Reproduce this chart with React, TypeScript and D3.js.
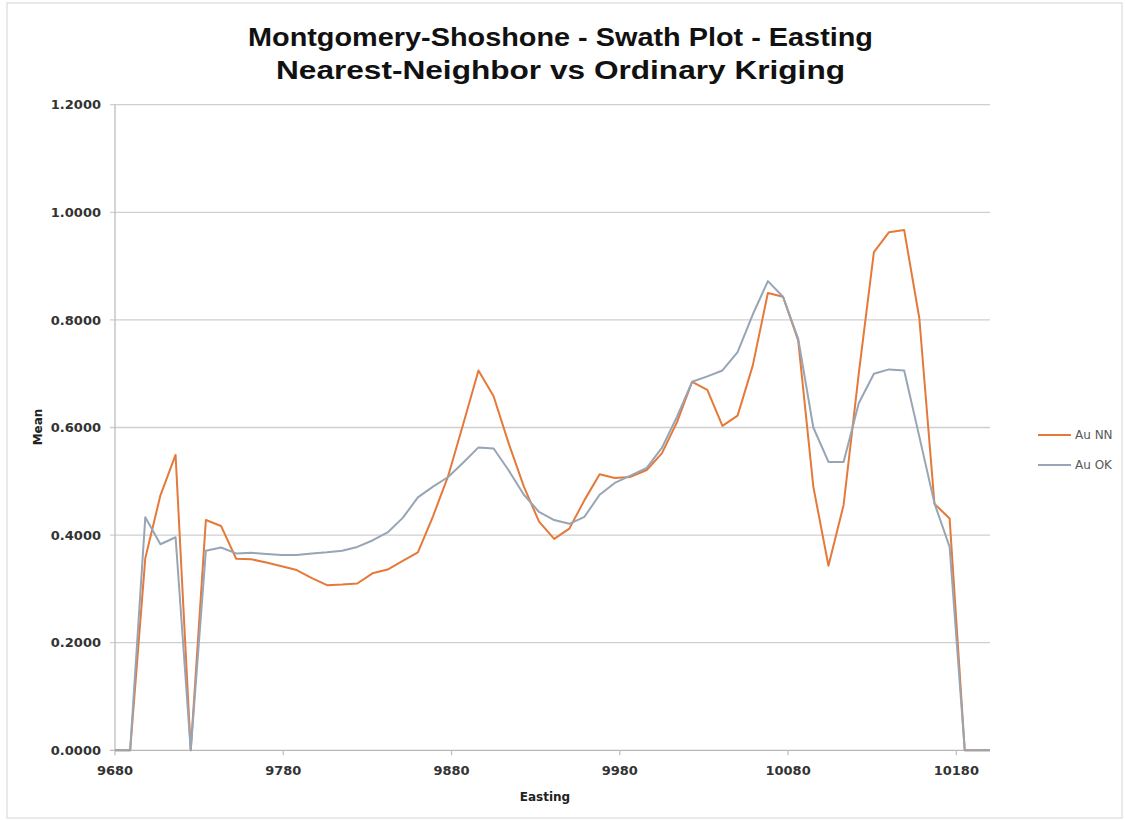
import React from "react";
import * as d3 from "d3";

const eastings = [
  9680, 9689, 9698, 9707, 9716, 9725, 9734, 9743, 9752, 9761, 9770, 9779, 9788, 9797, 9806,
  9815, 9824, 9833, 9842, 9851, 9860, 9869, 9878, 9887, 9896, 9905, 9914, 9923, 9932, 9941,
  9950, 9959, 9968, 9977, 9986, 9996, 10005, 10014, 10023, 10032, 10041, 10050, 10059, 10068,
  10077, 10086, 10095, 10104, 10113, 10122, 10131, 10140, 10149, 10158, 10167, 10176, 10185,
  10194, 10200,
];

const auNN = [
  0, 0, 0.357, 0.474, 0.549, 0, 0.428, 0.417, 0.356, 0.355, 0.349, 0.342, 0.335, 0.32, 0.307,
  0.308, 0.31, 0.329, 0.336, 0.352, 0.368, 0.435, 0.51, 0.607, 0.706, 0.658, 0.57, 0.49, 0.425,
  0.393, 0.412, 0.465, 0.513, 0.506, 0.508, 0.521, 0.552, 0.61, 0.685, 0.67, 0.603, 0.622, 0.715,
  0.85, 0.843, 0.762, 0.49, 0.343, 0.456, 0.7, 0.926, 0.963, 0.967, 0.803, 0.458, 0.431, 0, 0, 0,
];

const auOK = [
  0, 0, 0.433, 0.383, 0.396, 0, 0.371, 0.377, 0.366, 0.367, 0.365, 0.363, 0.363, 0.366, 0.368,
  0.371, 0.378, 0.39, 0.405, 0.432, 0.47, 0.49, 0.508, 0.535, 0.563, 0.561, 0.52, 0.475, 0.443,
  0.428, 0.421, 0.434, 0.475, 0.497, 0.51, 0.525, 0.562, 0.62, 0.685, 0.695, 0.706, 0.74, 0.81,
  0.872, 0.843, 0.765, 0.6, 0.536, 0.536, 0.645, 0.7, 0.708, 0.706, 0.583, 0.459, 0.378, 0, 0, 0,
];

const xTicks = [9680, 9780, 9880, 9980, 10080, 10180];
const yTicks = [0, 0.2, 0.4, 0.6, 0.8, 1.0, 1.2];

const seriesNames = ["Au NN", "Au OK"];
const seriesColors = ["#E4793A", "#97A5B5"];

const titleLines = ["Montgomery-Shoshone - Swath Plot - Easting", "Nearest-Neighbor vs Ordinary Kriging"];

export default function App() {
  const W = 1125;
  const H = 820;
  const left = 115;
  const right = 990;
  const top = 104.7;
  const bottom = 750.3;

  const x = d3.scaleLinear().domain([9680, 10200]).range([left, right]);
  const y = d3.scaleLinear().domain([0, 1.2]).range([bottom, top]);
  const fmt = d3.format(".4f");

  const line = d3
    .line<number>()
    .x((_, i) => x(eastings[i]))
    .y((d) => y(d));

  const series = [auNN, auOK];
  const tickFont = "'DejaVu Sans', sans-serif";

  return (
    <svg
      width={W}
      height={H}
      style={{ position: "absolute", left: 0, top: 0, background: "#fff" }}
    >
      <rect x={7} y={3} width={1115} height={815} fill="#fff" stroke="#d4d4d4" strokeWidth={1} />

      {/* title */}
      <g fontFamily="'Liberation Sans', Arial, sans-serif" fontWeight="bold" fontSize={25} fill="#111">
        <text x={560.5} y={46} textAnchor="middle" textLength={625} lengthAdjust="spacingAndGlyphs">
          {titleLines[0]}
        </text>
        <text x={560.5} y={79} textAnchor="middle" textLength={569} lengthAdjust="spacingAndGlyphs">
          {titleLines[1]}
        </text>
      </g>

      {/* gridlines */}
      {yTicks.map((t) => (
        <g key={"g" + t}>
          <line x1={left - 5} x2={right} y1={y(t)} y2={y(t)} stroke={t === 0 ? "#b8b8b8" : "#cfcfcf"} strokeWidth={1.3} />
          <text
            x={101}
            y={y(t)}
            dy="0.36em"
            textAnchor="end"
            fontFamily={tickFont}
            fontWeight="bold"
            fontSize={13}
            fill="#333"
          >
            {fmt(t)}
          </text>
        </g>
      ))}

      {/* y axis line */}
      <line x1={left} x2={left} y1={top} y2={bottom} stroke="#bdbdbd" strokeWidth={1.3} />

      {/* x ticks */}
      {xTicks.map((t) => (
        <g key={"x" + t}>
          <line x1={x(t)} x2={x(t)} y1={bottom} y2={bottom + 5} stroke="#bdbdbd" strokeWidth={1.2} />
          <text
            x={x(t)}
            y={775}
            textAnchor="middle"
            fontFamily={tickFont}
            fontWeight="bold"
            fontSize={13}
            fill="#333"
          >
            {t}
          </text>
        </g>
      ))}

      {/* axis titles */}
      <text
        x={545}
        y={801}
        textAnchor="middle"
        fontFamily={tickFont}
        fontWeight="bold"
        fontSize={12}
        fill="#222"
      >
        Easting
      </text>
      <text
        transform={`translate(42, 427) rotate(-90)`}
        textAnchor="middle"
        fontFamily={tickFont}
        fontWeight="bold"
        fontSize={12}
        fill="#222"
      >
        Mean
      </text>

      {/* series */}
      {series.map((s, i) => (
        <path
          key={seriesNames[i]}
          d={line(s) || ""}
          fill="none"
          stroke={seriesColors[i]}
          strokeWidth={2}
          strokeLinejoin="round"
        />
      ))}

      {/* legend */}
      {seriesNames.map((n, i) => (
        <g key={"l" + n}>
          <line x1={1038} x2={1071} y1={435 + i * 30} y2={435 + i * 30} stroke={seriesColors[i]} strokeWidth={2} />
          <text
            x={1075}
            y={435 + i * 30}
            dy="0.36em"
            fontFamily={tickFont}
            fontSize={12}
            fill="#595959"
          >
            {n}
          </text>
        </g>
      ))}
    </svg>
  );
}
